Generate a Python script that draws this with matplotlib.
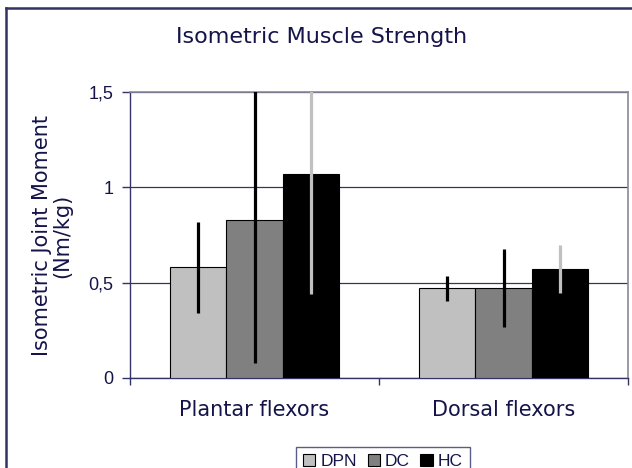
import numpy as np
import matplotlib.pyplot as plt
from matplotlib.patches import Patch
from matplotlib.lines import Line2D

# data
muscles = ['Plantar flexors', 'Dorsal flexors']
groups = ['DPN', 'DC', 'HC']
means = {'DPN': [0.58, 0.47], 'DC': [0.83, 0.47], 'HC': [1.07, 0.57]}
sds = {'DPN': [0.24, 0.065], 'DC': [0.75, 0.205], 'HC': [0.63, 0.125]}

bar_colors = {'DPN': '#c0c0c0', 'DC': '#808080', 'HC': '#000000'}
err_colors = {'DPN': '#000000', 'DC': '#000000', 'HC': '#c0c0c0'}
navy = '#14144a'
plt.rcParams['font.family'] = ['Liberation Sans', 'DejaVu Sans']
wide = 'DejaVu Sans'  # wider face stands in for the spaced-out Excel lettering

fig = plt.figure(figsize=(6.32, 4.68), dpi=100)
ax = fig.add_axes([130/632, 1-378/468, 498/632, 286/468])

x = np.arange(len(muscles))
w = 0.225
for i, g in enumerate(groups):
    pos = x + (i-1)*w
    ax.bar(pos, means[g], w, color=bar_colors[g], edgecolor='black', linewidth=0.8, zorder=3)
    ax.errorbar(pos, means[g], yerr=sds[g], fmt='none', ecolor=err_colors[g],
                elinewidth=2.3, capsize=0, zorder=4)

ax.set_xlim(-0.5, 1.5)
ax.set_ylim(0, 1.5)
ax.set_yticks([0, 0.5, 1, 1.5])
ax.set_yticklabels(['0', '0,5', '1', '1,5'], fontsize=13, color=navy)
ax.yaxis.grid(True, color='#333366', linewidth=0.9, zorder=0)
ax.set_axisbelow(True)

ax.set_xticks([-0.5, 0.5, 1.5])
ax.set_xticklabels([])
ax.set_xticks(x, minor=True)
ax.set_xticklabels(muscles, minor=True, fontsize=15, color=navy, family=wide)
ax.tick_params(axis='x', which='minor', length=0, pad=16)
ax.tick_params(axis='x', which='major', length=5, color='#333366', width=1)
ax.tick_params(axis='y', length=6, color='#333366', width=1, pad=6)

for s in ['left', 'bottom']:
    ax.spines[s].set_color('#333366')
    ax.spines[s].set_linewidth(1)
for s in ['right', 'top']:
    ax.spines[s].set_color('#8a8a9a')
    ax.spines[s].set_linewidth(1.2)

fig.text(322/632, 1-37/468, 'Isometric Muscle Strength', ha='center', va='center',
         fontsize=16, color=navy, family=wide)
fig.text(52/632, 1-236/468, 'Isometric Joint Moment\n(Nm/kg)', ha='center', va='center',
         rotation=90, fontsize=15, color=navy, multialignment='center', linespacing=1.05,
         family=wide)

handles = [Patch(facecolor=bar_colors[g], edgecolor='black', linewidth=0.8) for g in groups]
leg = fig.legend(handles, groups, loc='upper center', bbox_to_anchor=(383/632, 1-438/468),
                 ncol=3, fontsize=12.5, frameon=True, fancybox=False, handlelength=0.7,
                 handleheight=0.7, handletextpad=0.3, columnspacing=0.6, borderpad=0.4,
                 labelcolor=navy)
leg.get_frame().set_edgecolor('#333366')
leg.get_frame().set_linewidth(1)

# outer chart border
fig.add_artist(Line2D([6/632, 6/632], [-0.1, 1-8/468], transform=fig.transFigure,
                      color='#333366', linewidth=1.8))
fig.add_artist(Line2D([6/632, 1.1], [1-8/468, 1-8/468], transform=fig.transFigure,
                      color='#333366', linewidth=1.8))

fig.savefig('out.png', dpi=100)
